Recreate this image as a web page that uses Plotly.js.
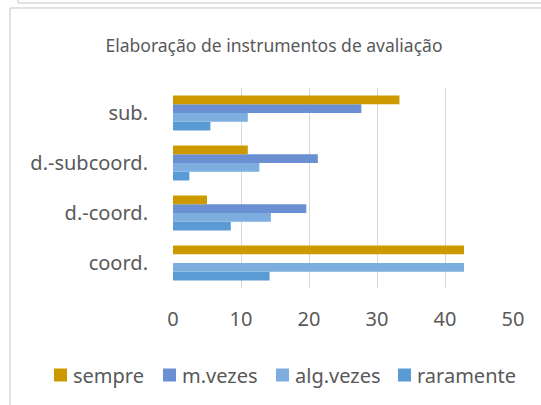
<!DOCTYPE html>
<html>
<head>
<meta charset="utf-8">
<script src="https://cdn.plot.ly/plotly-3.0.1.min.js"></script>
<style>
html,body{margin:0;padding:0;background:#fff;}
#chart{width:541px;height:405px;}
</style>
</head>
<body>
<div id="chart"></div>
<script>
var categories = ["coord.", "d.-coord.", "d.-subcoord.", "sub."];
var sempre = [42.8, 5.0, 11.0, 33.3];
var mVezes = [0, 19.6, 21.3, 27.7];
var algVezes = [42.8, 14.4, 12.7, 11.0];
var raramente = [14.2, 8.5, 2.4, 5.5];
var seriesNames = ["raramente", "alg.vezes", "m.vezes", "sempre"];
var seriesColors = ["#5B9BD5", "#7DAEDF", "#6A8FD2", "#CC9A00"];
var seriesValues = [raramente, algVezes, mVezes, sempre];
var tickVals = [0, 10, 20, 30, 40, 50];

var font = "Noto Sans, Open Sans, sans-serif";
var traces = seriesValues.map(function(v, i){
  return {
    type: "bar", orientation: "h",
    y: categories, x: v, name: seriesNames[i],
    marker: {color: seriesColors[i], line: {width: 0}},
    hoverinfo: "x+name", showlegend: false
  };
});

// plot-area pixel geometry -> paper coordinates (for legend and frame placement)
var L = 173, R = 513, T = 88, B = 288;
function px(x){ return (x - L) / (R - L); }
function py(y){ return (B - y) / (B - T); }

// manual legend (order: sempre, m.vezes, alg.vezes, raramente)
var legendSquareX = [54, 163, 276, 398];
var legendOrder = [3, 2, 1, 0];
var shapes = [
  {type: "line", xref: "paper", yref: "paper", x0: px(10), x1: px(10), y0: py(8), y1: py(420), line: {color: "#d9d9d9", width: 1.5}},
  {type: "line", xref: "paper", yref: "paper", x0: px(10), x1: px(560), y0: py(8), y1: py(8), line: {color: "#d9d9d9", width: 1.5}},
  {type: "line", xref: "paper", yref: "paper", x0: px(18), x1: px(560), y0: py(3), y1: py(3), line: {color: "#d9d9d9", width: 1.5}},
  {type: "line", xref: "paper", yref: "paper", x0: px(18), x1: px(18), y0: py(3), y1: py(-10), line: {color: "#d9d9d9", width: 1.5}}
];
var annotations = [];
legendOrder.forEach(function(si, k){
  var sx = legendSquareX[k];
  shapes.push({type: "rect", xref: "paper", yref: "paper", x0: px(sx), x1: px(sx + 13), y0: py(381.5), y1: py(368.5),
               fillcolor: seriesColors[si], line: {width: 0}});
  annotations.push({xref: "paper", yref: "paper", x: px(sx + 17), y: py(375), xanchor: "left", yanchor: "middle",
                    text: seriesNames[si], showarrow: false, font: {family: font, size: 20, color: "#595959"}});
});

var layout = {
  width: 541, height: 405,
  paper_bgcolor: "#fff", plot_bgcolor: "#fff",
  margin: {l: L, r: 541 - R, t: T, b: 405 - B},
  barmode: "group", bargap: 0.3, bargroupgap: 0,
  title: {text: "Elaboração de instrumentos de avaliação", x: 274/541, xanchor: "center", y: 1 - 46/405, yanchor: "middle",
          font: {family: font, size: 17.5, color: "#595959"}},
  font: {family: font, color: "#595959"},
  xaxis: {range: [0, 50], tickvals: tickVals, showgrid: true, gridcolor: "#d9d9d9", gridwidth: 1,
          zeroline: false, showline: false, ticks: "outside", ticklen: 13, tickcolor: "rgba(0,0,0,0)",
          tickfont: {family: font, size: 20, color: "#595959"}, fixedrange: true},
  yaxis: {type: "category", showgrid: false, zeroline: false, showline: false,
          ticks: "outside", ticklen: 20, tickcolor: "rgba(0,0,0,0)",
          tickfont: {family: font, size: 20, color: "#595959"}, fixedrange: true},
  shapes: shapes,
  annotations: annotations,
  showlegend: false
};
Plotly.newPlot("chart", traces, layout, {displayModeBar: false, staticPlot: true});
</script>
</body>
</html>
